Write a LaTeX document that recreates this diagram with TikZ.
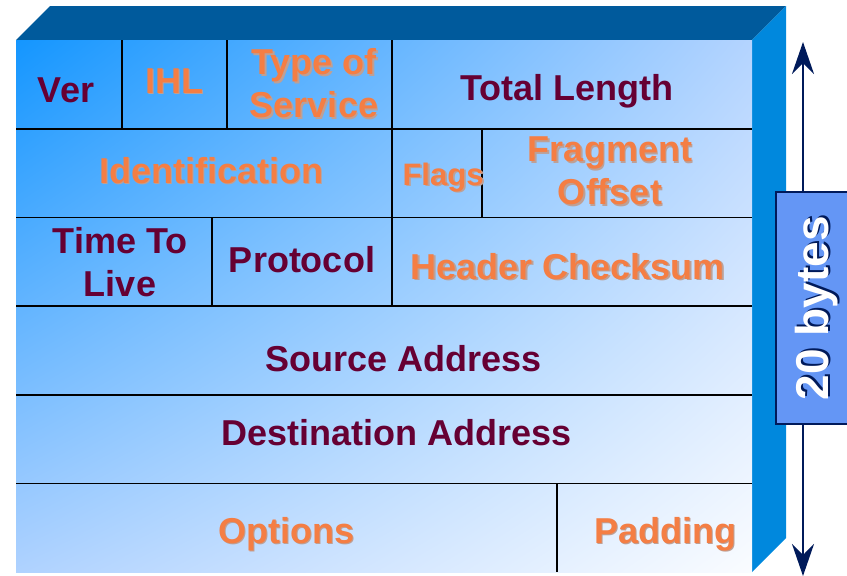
\documentclass[tikz,border=0pt]{standalone}
\usepackage{fontspec}
\setmainfont{Liberation Sans}
\usepackage{xcolor}
\usetikzlibrary{arrows.meta,positioning,shadings}
\definecolor{topface}{RGB}{0,90,156}
\definecolor{sideface}{RGB}{0,136,221}
\definecolor{maroon}{RGB}{102,0,51}
\definecolor{warmtxt}{RGB}{244,126,68}
\definecolor{warmshade}{RGB}{190,160,150}
\definecolor{navy}{RGB}{0,26,90}
\definecolor{boxfill}{RGB}{100,150,245}
\definecolor{faceul}{RGB}{20,150,255}
\definecolor{faceur}{RGB}{180,212,255}
\definecolor{facell}{RGB}{175,210,255}
\definecolor{facelr}{RGB}{250,252,255}
\newcommand{\shtxt}[2]{\makebox[0pt][l]{\hspace{1.8pt}\raisebox{-1.8pt}{\textcolor{#1}{#2}}}#2}
\newcommand{\wsh}[1]{\shtxt{warmshade}{#1}}
\tikzset{%
  % text classes
  fld/.style={align=center, inner sep=0pt, font=\fontsize{36}{43}\selectfont\bfseries},
  dark/.style={fld, text=maroon},
  warm/.style={fld, text=warmtxt},
  % shapes
  grid/.style={line width=1.6pt, black},
  bytebox/.style={draw=navy, line width=1.5pt, fill=boxfill, inner sep=0pt,
    minimum width=84pt, minimum height=232pt, text=white,
    font=\fontsize{46}{52}\selectfont\bfseries},
  sizearrow/.style={-{Stealth[length=32pt, width=22pt, inset=11pt]}, navy, line width=2.4pt},
}
\begin{document}
\begin{tikzpicture}[x=1pt, y=-1pt]
  \useasboundingbox (0,0) rectangle (847,576);
  \clip (0,0) rectangle (847,576);
  % block faces
  \fill[topface] (16,40) -- (50,6) -- (786,6) -- (752,40) -- cycle;
  \fill[sideface] (752,40) -- (786,6) -- (786,538) -- (752,572) -- cycle;
  \shade[upper left=faceul, upper right=faceur, lower left=facell, lower right=facelr]
    (16,40) rectangle (752,572);

  % rows and columns
  \foreach \y in {128.7, 217.3, 306, 394.7, 483.3}
    \draw[grid] (16,\y) -- (752,\y);
  \draw[grid] (122,40) -- (122,128.7);
  \draw[grid] (227,40) -- (227,128.7);
  \draw[grid] (392,40) -- (392,306);
  \draw[grid] (482,128.7) -- (482,217.3);
  \draw[grid] (212,217.3) -- (212,306);
  \draw[grid] (557,483.3) -- (557,572);

  % fields
  \node[dark, anchor=base] (ver) at (66,102) {Ver};
  \node[warm, anchor=base] (ihl) at (174,93) {\wsh{IHL}};
  \node[warm] (tos) at (314,84.5) {\wsh{Type of}\\\wsh{Service}};
  \node[dark, anchor=base] (totlen) at (567,100) {Total Length};
  \node[warm, anchor=base] (ident) at (211,183) {\wsh{Identification}};
  \node[warm, anchor=base, font=\fontsize{31}{36}\selectfont\bfseries] (flags) at (443,185) {\wsh{Flags}};
  \node[warm] (frag) at (610,172) {\wsh{Fragment}\\\wsh{Offset}};
  \node[dark] (ttl) at (120,262) {Time To\\Live};
  \node[dark, anchor=base] (proto) at (302,272) {Protocol};
  \node[warm, anchor=base] (cksum) at (568,279) {\wsh{Header Checksum}};
  \node[dark, anchor=base] (src) at (404,371) {Source Address};
  \node[dark, anchor=base] (dst) at (397,445) {Destination Address};
  \node[warm, anchor=base] (opts) at (286,543) {\wsh{Options}};
  \node[warm, anchor=base] (pad) at (665,543) {\wsh{Padding}};

  % size marker
  \coordinate (atop) at (803,42);
  \coordinate (abot) at (803,576);
  \node[bytebox] (bytes) at (818,308) {\rotatebox{90}{\shtxt{navy}{20 bytes}}};
  \draw[sizearrow] (bytes.north -| atop) -- (atop);
  \draw[sizearrow] (bytes.south -| abot) -- (abot);
\end{tikzpicture}
\end{document}
